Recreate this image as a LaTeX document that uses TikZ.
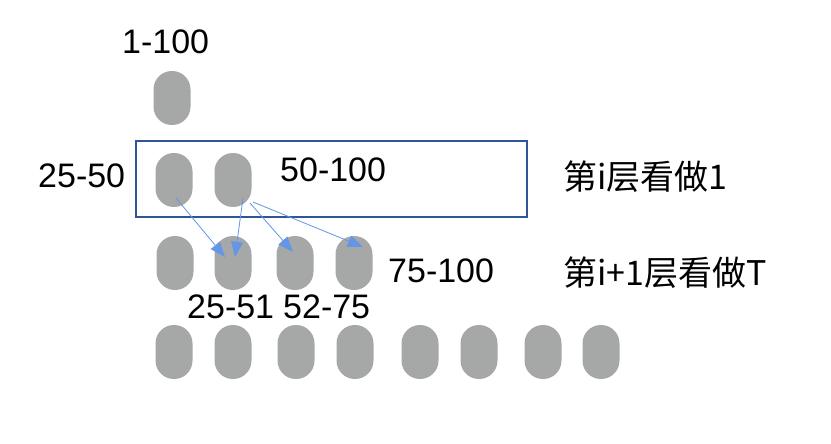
\documentclass[tikz,border=0pt]{standalone}
\usepackage{fontspec}
\setmainfont{Liberation Sans}
\newfontfamily\cjk{Noto Sans CJK SC}
\usetikzlibrary{arrows.meta,positioning}
\definecolor{pillgray}{RGB}{165,168,166}
\definecolor{boxblue}{RGB}{47,85,151}
\definecolor{arrblue}{RGB}{100,150,230}

\begin{document}
\begin{tikzpicture}[x=0.03cm, y=-0.03cm, every node/.style={font=\fontsize{29}{34}\selectfont}, pill/.style={fill=pillgray, rounded corners=0.55cm, minimum width=1.11cm, minimum height=1.62cm, inner sep=0}, lbl/.style={anchor=base west, inner sep=0}, arr/.style={-{Triangle[length=13pt,width=10pt]}, arrblue, line width=0.7pt}, layerbox/.style={draw=boxblue, line width=1.1pt}]
\useasboundingbox (0,0) rectangle (831,444);
% root
\node[pill] (r1) at (172,98) {};
\node[lbl] (t1) at (122,53) {1-100};
% layer i
\draw[layerbox] (136,141) rectangle (527,217);
\node[pill] (r2a) at (174,180) {};
\node[pill] (r2b) at (233,180) {};
\node[lbl] (t2a) at (38,187) {25-50};
\node[lbl] (t2b) at (280,181) {50-100};
\node[lbl] (c1) at (563,189) {\cjk 第i层看做1};
% layer i+1
\node[pill] (r3a) at (175,263) {};
\node[pill] (r3b) at (233,263) {};
\node[pill] (r3c) at (295,263) {};
\node[pill] (r3d) at (354,263) {};
\node[lbl] (t3a) at (187,318) {25-51};
\node[lbl] (t3b) at (283,318) {52-75};
\node[lbl] (t3d) at (388,282) {75-100};
\node[lbl] (c2) at (563,285) {\cjk 第i+1层看做T};
% last layer
\node[pill] (r4a) at (174,352) {};
\node[pill] (r4b) at (233,352) {};
\node[pill] (r4c) at (296,352) {};
\node[pill] (r4d) at (355,352) {};
\node[pill] (r4e) at (420,352) {};
\node[pill] (r4f) at (479,352) {};
\node[pill] (r4g) at (543,352) {};
\node[pill] (r4h) at (601,352) {};
% arrows
\draw[arr] ([shift={(2,18)}]r2a.center) -- ([shift={(-8,-6)}]r3b.center);
\draw[arr] ([shift={(10,18)}]r2b.center) -- ([shift={(2,-6)}]r3b.center);
\draw[arr] ([shift={(17,23)}]r2b.center) -- ([shift={(-2,-11)}]r3c.center);
\draw[arr] ([shift={(20,22)}]r2b.center) -- ([shift={(9,-16)}]r3d.center);
\end{tikzpicture}
\end{document}
